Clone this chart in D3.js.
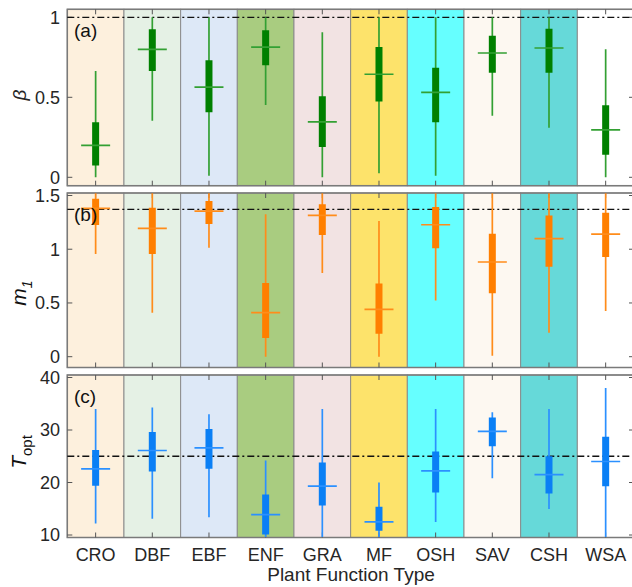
<!DOCTYPE html>
<html><head><meta charset="utf-8">
<script src="https://cdn.jsdelivr.net/npm/d3@7"></script>
<style>body{margin:0;background:#fff}svg{display:block;font-family:"Liberation Sans",Arial,sans-serif}</style>
</head><body><svg id="c" width="632" height="587"></svg>
<script>
const categories = ["CRO","DBF","EBF","ENF","GRA","MF","OSH","SAV","CSH","WSA"];
const bgColors = ["#fdf0dd","#e5f1e5","#dde8f7","#a9cc80","#f2e3e3","#fde36b","#66ffff","#fdf8f1","#66d9d9","#ffffff"];

// (a) beta
const betaMin = [0.00,0.354,0.01,0.452,0.00,0.025,0.01,0.385,0.31,0.00];
const betaQ1  = [0.073,0.664,0.406,0.70,0.189,0.473,0.344,0.654,0.654,0.141];
const betaMid = [0.20,0.80,0.564,0.814,0.346,0.644,0.531,0.777,0.808,0.296];
const betaQ3  = [0.344,0.925,0.731,0.919,0.506,0.814,0.685,0.885,0.929,0.45];
const betaMax = [0.664,1.00,1.00,1.00,0.906,1.00,1.00,1.00,1.00,0.80];
const betaTicks = [0,0.5,1];
const betaRef = 1;

// (b) m1
const m1Min = [0.955,0.41,1.014,0.00,0.78,0.00,0.524,0.01,0.223,0.425];
const m1Q1  = [1.225,0.955,1.234,0.174,1.132,0.214,1.008,0.59,0.837,0.927];
const m1Mid = [1.38,1.194,1.355,0.41,1.315,0.44,1.228,0.881,1.098,1.141];
const m1Q3  = [1.47,1.386,1.448,0.686,1.418,0.68,1.392,1.145,1.315,1.34];
const m1Max = [1.52,1.52,1.52,1.325,1.52,1.262,1.52,1.52,1.52,1.52];
const m1Ticks = [0,0.5,1,1.5];
const m1Ref = 1.37;

// (c) Topt
const toptMin = [12.2,13.1,13.4,9.6,9.6,9.6,12.5,20.8,14.95,9.6];
const toptQ1  = [19.4,22.1,22.6,10.1,15.6,10.8,18.1,26.9,17.9,19.3];
const toptMid = [22.6,26.1,26.6,13.9,19.3,12.5,22.2,29.75,21.5,24.0];
const toptQ3  = [26.2,29.6,30.2,17.7,23.8,15.4,25.9,32.4,25.0,28.7];
const toptMax = [34.0,34.3,33.0,24.2,34.0,20.0,34.0,33.4,34.0,38.0];
const toptTicks = [10,20,30,40];
const toptRef = 25;

const svg = d3.select("#c");
const x = d3.scaleBand().domain(categories).range([67.3, 634]).padding(0);

const panels = [
  {label:"(a)", min:betaMin,q1:betaQ1,mid:betaMid,q3:betaQ3,max:betaMax,ticks:betaTicks,ref:betaRef,
   y:d3.scaleLinear().domain([0,1]).range([177.3,17.3]), top:9.3, bottom:185.7,
   col:"#008000", lcol:"#33a033", fmt:d3.format("")},
  {label:"(b)", min:m1Min,q1:m1Q1,mid:m1Mid,q3:m1Q3,max:m1Max,ticks:m1Ticks,ref:m1Ref,
   y:d3.scaleLinear().domain([0,1.5]).range([356.7,195.5]), top:193, bottom:367.5,
   col:"#ff7f00", lcol:"#ff8c1a", fmt:d3.format("")},
  {label:"(c)", min:toptMin,q1:toptQ1,mid:toptMid,q3:toptQ3,max:toptMax,ticks:toptTicks,ref:toptRef,
   y:d3.scaleLinear().domain([10,40]).range([535,377.5]), top:375, bottom:537.5,
   col:"#0a7ff5", lcol:"#2b90ff", fmt:d3.format("")}
];

const x0 = 67.3, x1 = 634;
panels.forEach((p,pi) => {
  const g = svg.append("g");
  const clipId = "clip"+pi;
  svg.append("clipPath").attr("id",clipId).append("rect")
    .attr("x",x0).attr("y",p.top).attr("width",x1-x0).attr("height",p.bottom-p.top);
  g.selectAll("rect.bg").data(categories).join("rect")
    .attr("x",d=>x(d)).attr("y",p.top).attr("width",x.bandwidth()).attr("height",p.bottom-p.top)
    .attr("fill",(d,i)=>bgColors[i]).attr("stroke","#8c8c8c").attr("stroke-width",1);
  g.append("rect").attr("x",x0).attr("y",p.top).attr("width",x1-x0).attr("height",p.bottom-p.top)
    .attr("fill","none").attr("stroke","#7a7a7a").attr("stroke-width",1.5);
  categories.forEach(c => {
    const cx = x(c)+x.bandwidth()/2;
    g.append("line").attr("x1",cx).attr("x2",cx).attr("y1",p.top).attr("y2",p.top+5).attr("stroke","#555").attr("stroke-width",1);
    g.append("line").attr("x1",cx).attr("x2",cx).attr("y1",p.bottom).attr("y2",p.bottom-5).attr("stroke","#555").attr("stroke-width",1);
  });
  p.ticks.forEach(t => {
    const ty = p.y(t);
    g.append("line").attr("x1",x0).attr("x2",x0+5).attr("y1",ty).attr("y2",ty).attr("stroke","#555").attr("stroke-width",1);
    g.append("line").attr("x1",x1).attr("x2",x1-5).attr("y1",ty).attr("y2",ty).attr("stroke","#555").attr("stroke-width",1);
    g.append("text").attr("x",60).attr("y",ty).attr("dy","0.36em").attr("text-anchor","end")
      .attr("font-size",18).attr("fill","#262626").text(p.fmt(t));
  });
  g.append("line").attr("x1",x0).attr("x2",x1).attr("y1",p.y(p.ref)).attr("y2",p.y(p.ref))
    .attr("stroke","#111").attr("stroke-width",1.3).attr("stroke-dasharray","7,3,2,3");
  const bg = g.append("g").attr("clip-path",`url(#${clipId})`);
  categories.forEach((c,i) => {
    const cx = x(c)+x.bandwidth()/2;
    bg.append("line").attr("x1",cx).attr("x2",cx).attr("y1",p.y(p.min[i])).attr("y2",p.y(p.max[i]))
      .attr("stroke",p.lcol).attr("stroke-width",1.7);
    bg.append("line").attr("x1",cx).attr("x2",cx).attr("y1",p.y(p.q1[i])).attr("y2",p.y(p.q3[i]))
      .attr("stroke",p.col).attr("stroke-width",7);
    bg.append("line").attr("x1",cx-14.5).attr("x2",cx+14.5).attr("y1",p.y(p.mid[i])).attr("y2",p.y(p.mid[i]))
      .attr("stroke",p.lcol).attr("stroke-width",1.7);
  });
  g.append("text").attr("x",74).attr("y",p.top+28).attr("font-size",19).attr("fill","#111").text(p.label);
});

svg.append("text").attr("transform","translate(26,95) rotate(-90)").attr("text-anchor","middle")
  .attr("font-size",19).attr("font-style","italic").attr("fill","#262626").text("β");
const m1t = svg.append("text").attr("transform","translate(26,293) rotate(-90)").attr("text-anchor","middle")
  .attr("font-size",21).attr("fill","#111");
m1t.append("tspan").attr("font-style","italic").text("m");
m1t.append("tspan").attr("font-style","italic").attr("font-size",14).attr("dy",6).text("1");
const tt = svg.append("text").attr("transform","translate(26,452) rotate(-90)").attr("text-anchor","middle")
  .attr("font-size",21).attr("fill","#111");
tt.append("tspan").attr("font-style","italic").text("T");
tt.append("tspan").attr("font-size",15).attr("dy",6).text("opt");

categories.forEach(c => {
  svg.append("text").attr("x",x(c)+x.bandwidth()/2).attr("y",561).attr("text-anchor","middle")
    .attr("font-size",18).attr("fill","#262626").text(c);
});
svg.append("text").attr("x",351).attr("y",581).attr("text-anchor","middle")
  .attr("font-size",19).attr("fill","#262626").text("Plant Function Type");
</script></body></html>
